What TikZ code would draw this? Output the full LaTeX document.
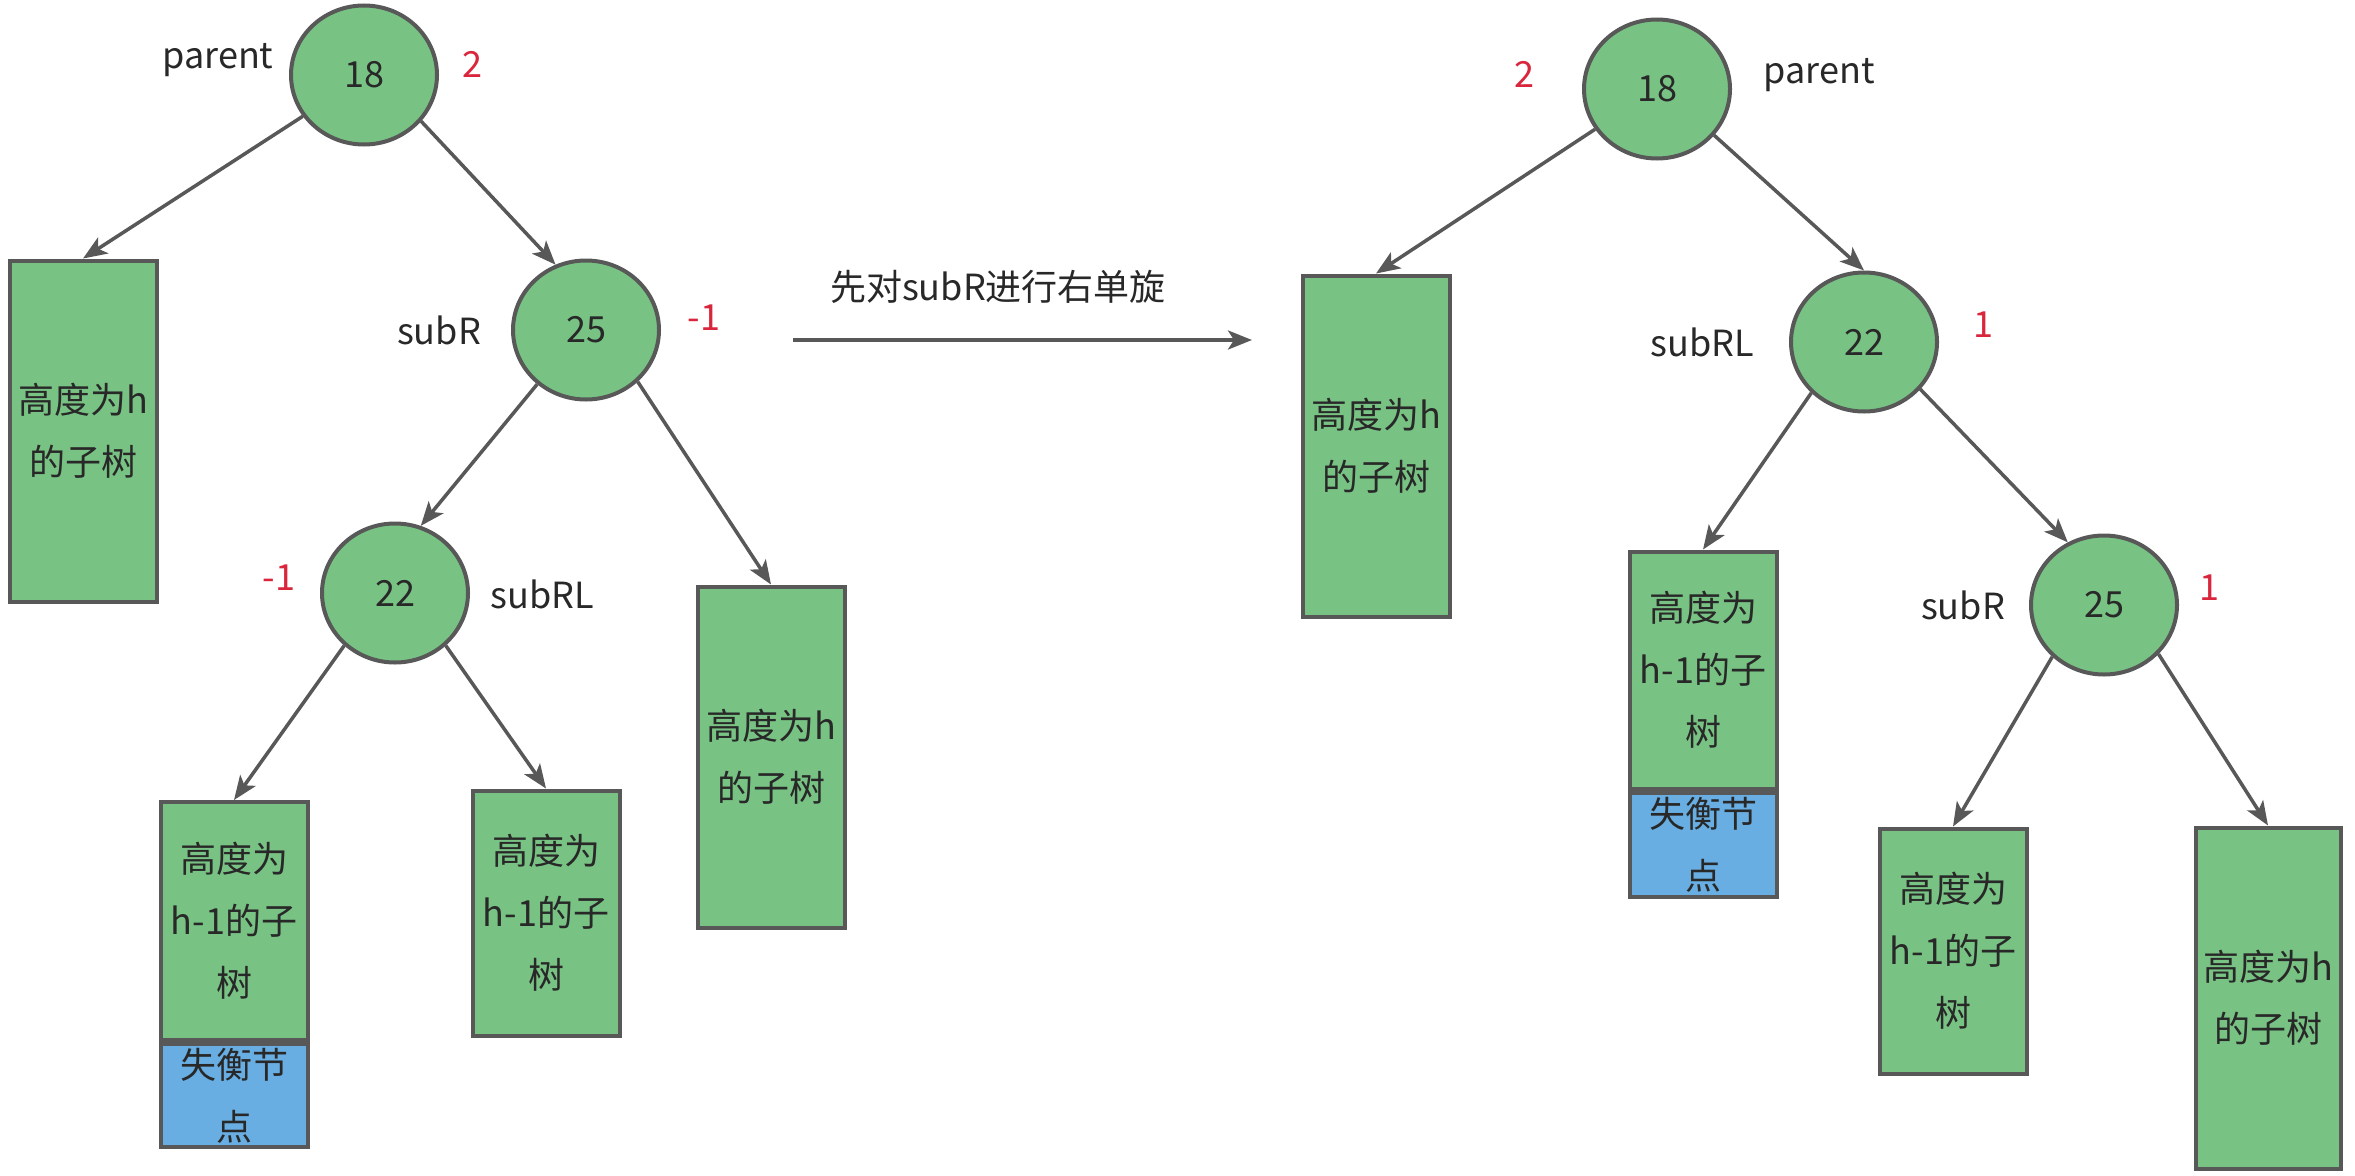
\documentclass[tikz,border=0pt]{standalone}
\usepackage{fontspec}
\setmainfont{Noto Sans CJK SC}
\usetikzlibrary{shapes.geometric,arrows.meta}
\definecolor{nodegreen}{RGB}{120,195,132}
\definecolor{nodeblue}{RGB}{104,174,226}
\definecolor{edgegray}{RGB}{88,88,88}
\definecolor{txt}{RGB}{40,40,40}
\definecolor{balred}{RGB}{218,38,60}
\tikzset{
  tnode/.style={ellipse,draw=edgegray,line width=4pt,fill=nodegreen,minimum width=146pt,minimum height=139pt,inner sep=0pt,text=txt},
  tallbox/.style={rectangle,draw=edgegray,line width=4pt,fill=nodegreen,minimum width=147pt,minimum height=341pt,inner sep=0pt,align=center,text=txt},
  midbox/.style={rectangle,draw=edgegray,line width=4pt,fill=nodegreen,minimum width=147pt,minimum height=245pt,inner sep=0pt,align=center,text=txt},
  gbox/.style={rectangle,draw=edgegray,line width=4pt,fill=nodegreen,minimum width=147pt,inner sep=0pt,align=center,text=txt},
  bbox/.style={rectangle,draw=edgegray,line width=4pt,fill=nodeblue,minimum width=147pt,inner sep=0pt,align=center,text=txt},
  lbl/.style={text=txt,inner sep=0pt},
  bal/.style={text=balred,inner sep=0pt},
  edge/.style={draw=edgegray,line width=3.5pt,-{Stealth[length=24pt,width=19pt,inset=6pt]}},
}
\begin{document}
\begin{tikzpicture}[x=1pt,y=-1pt,font=\fontsize{36}{62}\selectfont]
\useasboundingbox[fill=white] (0,0) rectangle (2355,1175);
% ---------- left tree ----------
\node[tnode] (a18) at (364,75) {18};
\node[lbl] (a18l) at (218,60) {parent};
\node[bal] (a18b) at (472,64) {2};
\node[tallbox] (aL) at (83,431) {高度为h\\的子树};
\node[tnode] (a25) at (586,330) {25};
\node[lbl] (a25l) at (439,330) {subR};
\node[bal] (a25b) at (704,318) {-1};
\node[tnode] (a22) at (395,593) {22};
\node[lbl] (a22l) at (542,594) {subRL};
\node[bal] (a22b) at (279,578) {-1};
\node[tallbox] (aR) at (771,757) {高度为h\\的子树};
\node[gbox,minimum height=238pt] (aLLg) at (234,921) {高度为\\h-1的子\\树};
\node[bbox,minimum height=103pt,anchor=north] (aLLb) at (aLLg.south) {失衡节\\点};
\node[midbox] (aLR) at (546,913) {高度为\\h-1的子\\树};
\draw[edge] (a18.-146) -- (aL.north);
\draw[edge] (a18.-39) -- (a25.115);
\draw[edge] (a25.-132) -- (a22.69);
\draw[edge] (a25.-45) -- (aR.north);
\draw[edge] (a22.-134) -- (aLLg.north);
\draw[edge] (a22.-46) -- (aLR.north);
% ---------- middle arrow ----------
\coordinate (mA) at (793,340);
\coordinate (mB) at (1252,340);
\draw[edge] (mA) -- (mB);
\node[lbl] (mT) at (998,287) {先对subR进行右单旋};
% ---------- right tree ----------
\node[tnode] (b18) at (1657,89) {18};
\node[lbl] (b18l) at (1819,75) {parent};
\node[bal] (b18b) at (1524,74) {2};
\node[tallbox] (bL) at (1376,446) {高度为h\\的子树};
\node[tnode] (b22) at (1864,342) {22};
\node[lbl] (b22l) at (1702,342) {subRL};
\node[bal] (b22b) at (1983,325) {1};
\node[gbox,minimum height=237pt] (b22g) at (1703,670) {高度为\\h-1的子\\树};
\node[bbox,minimum height=104pt,anchor=north] (b22bl) at (b22g.south) {失衡节\\点};
\node[tnode] (b25) at (2104,605) {25};
\node[lbl] (b25l) at (1963,605) {subR};
\node[bal] (b25b) at (2209,588) {1};
\node[midbox] (bRL) at (1953,951) {高度为\\h-1的子\\树};
\node[tallbox,minimum width=145pt] (bRR) at (2268,998) {高度为h\\的子树};
\draw[edge] (b18.-147) -- (bL.north);
\draw[edge] (b18.-39) -- (b22.90);
\draw[edge] (b22.-136) -- (b22g.north);
\draw[edge] (b22.-40) -- (b25.120);
\draw[edge] (b25.-135) -- (bRL.north);
\draw[edge] (b25.-42) -- (bRR.north);
\end{tikzpicture}
\end{document}
